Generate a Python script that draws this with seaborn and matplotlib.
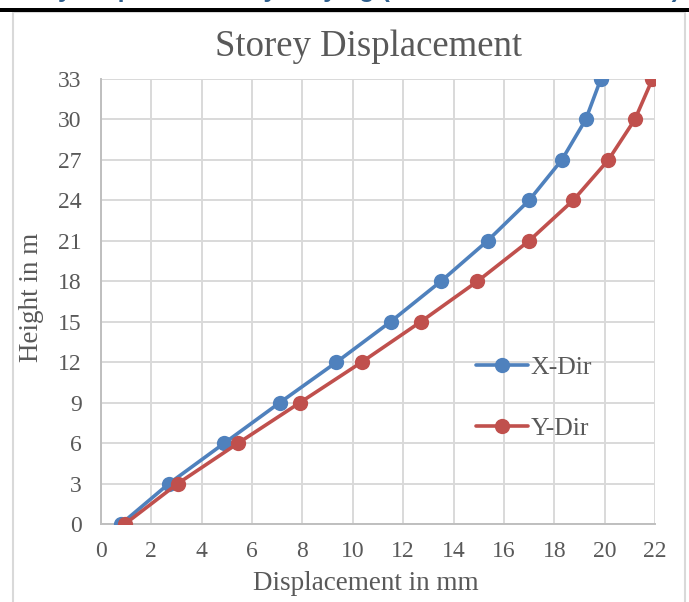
import numpy as np
import pandas as pd
import matplotlib
matplotlib.use("Agg")
import matplotlib.pyplot as plt
from matplotlib.patches import Rectangle
import seaborn as sns

# ---- data ----
heights = [0, 3, 6, 9, 12, 15, 18, 21, 24, 27, 30, 33]
x_dir = [0.8, 2.7, 4.9, 7.1, 9.35, 11.5, 13.5, 15.35, 17.0, 18.3, 19.25, 19.85]
y_dir = [0.95, 3.05, 5.45, 7.9, 10.35, 12.7, 14.95, 17.0, 18.75, 20.15, 21.2, 21.9]
series_names = ["X-Dir", "Y-Dir"]
x_ticks = list(range(0, 23, 2))
y_ticks = list(range(0, 34, 3))
title = "Storey Displacement"
xlabel = "Displacement in mm"
ylabel = "Height in m"
header = "Storey Displacement by Varying (Without Infill Wall Panel)"

df = pd.DataFrame({
    "disp": x_dir + y_dir,
    "height": heights + heights,
    "dir": [series_names[0]] * len(heights) + [series_names[1]] * len(heights),
})

sns.set_theme(style="white")
plt.rcParams["font.family"] = ["Liberation Serif", "DejaVu Serif"]

W, H = 689, 602
fig = plt.figure(figsize=(W / 100, H / 100), dpi=100)
fig.patch.set_facecolor("white")

PL, PR, PT, PB = 101, 655, 79, 524
ax = fig.add_axes([PL / W, 1 - PB / H, (PR - PL) / W, (PB - PT) / H])

palette = {"X-Dir": "#4F81BD", "Y-Dir": "#C0504D"}
sns.lineplot(data=df, x="disp", y="height", hue="dir", palette=palette,
             marker="o", markersize=11, markeredgewidth=0, linewidth=2.6,
             sort=False, estimator=None, ax=ax, zorder=3)

ax.set_xlim(0, 22)
ax.set_ylim(0, 33)
ax.set_xticks(x_ticks)
ax.set_yticks(y_ticks)
ax.tick_params(axis="both", length=0, labelsize=17, labelcolor="#595959")
ax.tick_params(axis="x", pad=12)
ax.tick_params(axis="y", pad=14)
ax.grid(True, color="#d9d9d9", linewidth=1.4, zorder=0)
for s in ["top", "right"]:
    ax.spines[s].set_visible(False)
for s in ["left", "bottom"]:
    ax.spines[s].set_color("#bfbfbf")
    ax.spines[s].set_linewidth(1.4)
ax.set_xlabel(xlabel, fontsize=19.5, color="#595959")
ax.set_ylabel(ylabel, fontsize=19.5, color="#595959")
ax.xaxis.set_label_coords((366 - PL) / (PR - PL), -(571 - PB) / (PB - PT))
ax.yaxis.set_label_coords(-(PL - 44) / (PR - PL), (PB - 297) / (PB - PT))

leg = ax.legend(title=None, frameon=False, fontsize=18.5, loc="upper left",
                bbox_to_anchor=((466 - PL) / (PR - PL), (PB - 346) / (PB - PT)),
                handlelength=2.0, labelspacing=1.45, handletextpad=0.1,
                borderaxespad=0)
for t in leg.get_texts():
    t.set_color("#595959")

fig.text(369 / W, 1 - 56 / H, title, ha="center", va="baseline",
         fontsize=26.5, color="#595959")

# chart frame and top bar
fig.add_artist(Rectangle((13 / W, -0.05), (685 - 13) / W, 1 - 12 / H + 0.05,
                         transform=fig.transFigure, fill=False,
                         edgecolor="#d9d9d9", linewidth=1.5))
fig.add_artist(Rectangle((0, 1 - 12 / H), 1, 4 / H, transform=fig.transFigure,
                         facecolor="black", edgecolor="none"))
fig.text(680 / W, 1 + 3 / H, header, ha="right", va="baseline", fontsize=18,
         fontweight="bold", color="#2E5E8C", family=["Liberation Sans", "DejaVu Sans"])

fig.savefig("out.png", dpi=100)
